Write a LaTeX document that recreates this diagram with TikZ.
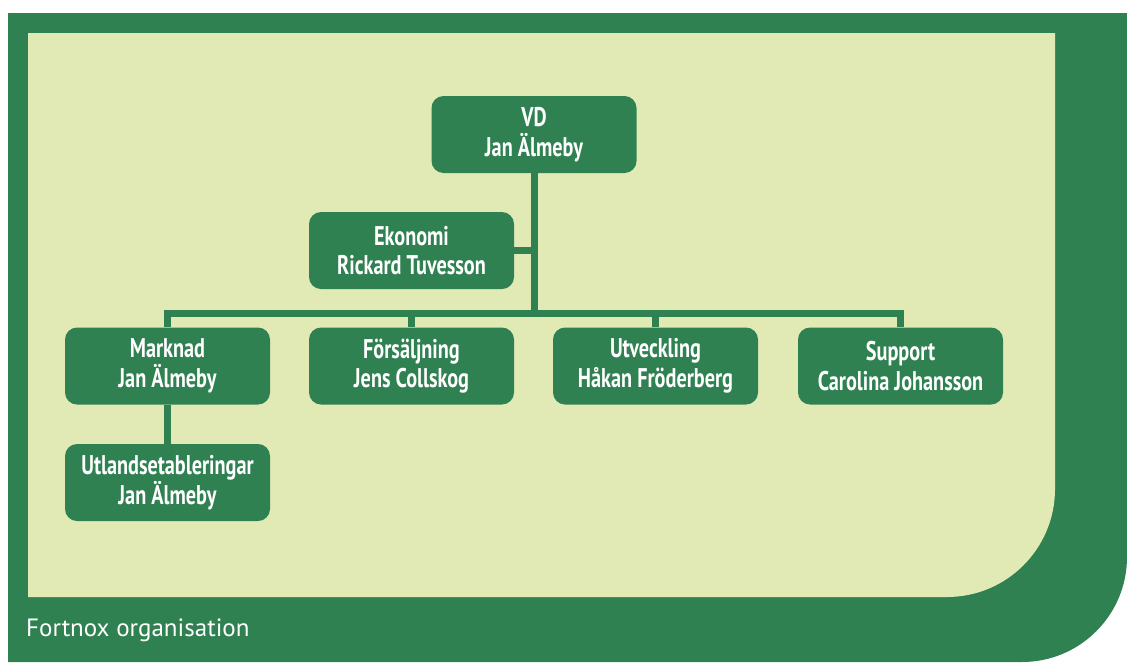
\documentclass[tikz,border=0pt]{standalone}
\usepackage{fontspec}
\newfontfamily\boxfont{PT Sans}[FakeStretch=0.75]
\newfontfamily\capfont{PT Sans}
\definecolor{fgreen}{RGB}{47,129,81}
\definecolor{fpale}{RGB}{225,234,181}
\begin{document}
\begin{tikzpicture}[x=1pt,y=-1pt,
  orgbox/.style={fill=fgreen, rounded corners=12pt, minimum width=205pt, minimum height=77pt,
    inner sep=0pt, text=white, align=center, font=\boxfont\bfseries\fontsize{27}{29.5}\selectfont},
  link/.style={draw=fgreen, line width=7pt}]
\useasboundingbox (0,0) rectangle (1127,662);
\fill[white] (0,0) rectangle (1127,662);
% outer green frame
\fill[fgreen] (8,13) -- (1127,13) -- (1127,557) arc[start angle=0, end angle=90, radius=105] -- (8,662) -- cycle;
% inner pale panel
\fill[fpale] (28,33) -- (1055,33) -- (1055,489) arc[start angle=0, end angle=90, radius=108] -- (28,597) -- cycle;
% nodes
\node[orgbox] (vd) at (534,134.5) {VD\\Jan Älmeby};
\node[orgbox] (eko) at (411.5,250.5) {Ekonomi\\Rickard Tuvesson};
\node[orgbox] (mark) at (167.5,366) {Marknad\\Jan Älmeby};
\node[orgbox] (fors) at (411.5,366) {Försäljning\\Jens Collskog};
\node[orgbox] (utv) at (655.5,366) {Utveckling\\Håkan Fröderberg};
\node[orgbox] (supp) at (900.5,366) {Support\\Carolina Johansson};
\node[orgbox] (utl) at (167.5,482.5) {Utlandsetableringar\\Jan Älmeby};
\coordinate (busL) at (167.5,313);
\coordinate (busR) at (900.5,313);
\coordinate (trunk) at (534,313);
% connectors
\draw[link] (vd.south) -- (trunk);
\draw[link] (mark.north) -- (busL) -- (busR) -- (supp.north);
\draw[link] (eko.east) -- (eko.east -| trunk);
\draw[link] (fors.north) -- (fors.north |- busL);
\draw[link] (utv.north) -- (utv.north |- busL);
\draw[link] (mark.south) -- (utl.north);
% caption
\node[anchor=base west, inner sep=0pt, text=white, font=\capfont\fontsize{25}{29}\selectfont] (cap) at (26,636) {Fortnox organisation};
\end{tikzpicture}
\end{document}
